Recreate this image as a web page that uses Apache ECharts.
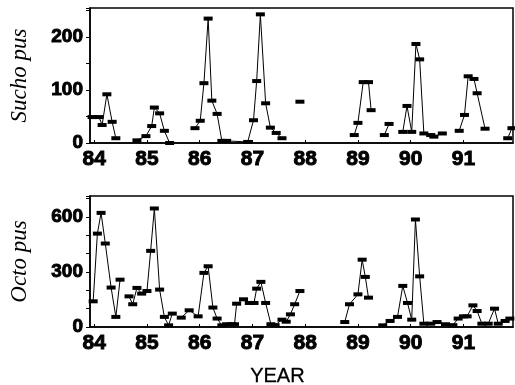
<!DOCTYPE html>
<html><head><meta charset="utf-8">
<script src="https://cdn.jsdelivr.net/npm/echarts@6/dist/echarts.min.js"></script>
<style>html,body{margin:0;padding:0;background:#fff}#c{width:515px;height:385px}</style>
</head><body><div id="c"></div>
<script>
// Year tick labels
const yearTicks = [84, 85, 86, 87, 88, 89, 90, 91];

// Sucho pus (top panel); null marks a break in the line
const suchoYear = [83.96, 84.09, 84.15, 84.24, 84.34, 84.41, null,
  84.81, 84.98, 85.09, 85.14, 85.24, 85.33, 85.43, null,
  85.91, 86.01, 86.08, 86.16, 86.23, 86.33, 86.42, 86.51, 86.91, 87.02, 87.08, 87.15, 87.25, 87.34, 87.45, 87.56, null,
  87.90, null,
  88.93, 89.00, 89.10, 89.20, 89.25, null,
  89.50, 89.59, null,
  89.85, 89.93, 90.02, 90.10, 90.17, 90.25, 90.38, 90.44, 90.60, null,
  90.92, 91.02, 91.09, 91.20, 91.26, 91.41, null,
  91.84, 91.92];
const suchoVal = [49, 49, 34, 92, 40, 9, null,
  5, 13, 32, 67, 56, 23, 0, null,
  28, 42, 113, 235, 80, 55, 4, 4, 2, 43, 117, 243, 75, 29, 19, 9, null,
  78, null,
  15, 38, 115, 115, 62, null,
  15, 36, null,
  21, 70, 21, 187, 158, 18, 15, 12, 18, null,
  23, 53, 126, 121, 94, 27, null,
  9, 28];

// Octo pus (bottom panel)
const octoYear = [83.98, 84.06, 84.13, 84.21, 84.32, 84.41, 84.49, null,
  84.66, 84.73, 84.81, 84.90, 85.00, 85.07, 85.14, 85.24, 85.33, 85.41, 85.48, null,
  85.65, 85.80, 85.97, 86.08, 86.16, 86.25, 86.33, 86.42, 86.51, 86.60, 86.66, 86.70, 86.83, 86.94, 87.03, 87.08, 87.16, 87.25, 87.35, 87.43, 87.56, 87.64, 87.72, 87.80, 87.90, null,
  88.75, 88.84, 89.00, 89.08, 89.14, 89.20, null,
  89.47, 89.61, 89.75, 89.85, 89.94, 90.02, 90.09, 90.17, 90.25, 90.38, 90.50, 90.66, 90.80, 90.90, 91.00, 91.07, 91.18, 91.26, 91.35, 91.47, 91.59, 91.66, 91.79, 91.88];
const octoVal = [140, 509, 622, 455, 215, 55, 258, null,
  167, 124, 213, 182, 196, 415, 646, 204, 55, 9, 73, null,
  51, 91, 58, 295, 331, 106, 46, 9, 15, 15, 15, 127, 151, 131, 131, 209, 246, 131, 15, 10, 40, 29, 69, 124, 196, null,
  27, 124, 178, 367, 273, 160, null,
  9, 33, 55, 224, 131, 40, 586, 276, 18, 18, 27, 15, 10, 46, 58, 58, 118, 87, 18, 18, 100, 18, 33, 46];

function segments(xs, ys) {
  const segs = []; let cur = [];
  xs.forEach((x, i) => {
    if (x === null) { if (cur.length) segs.push(cur); cur = []; }
    else cur.push([x, ys[i]]);
  });
  if (cur.length) segs.push(cur);
  return segs;
}

const tickFont = { fontFamily: 'Liberation Sans', fontWeight: 'bold', color: '#000',
  textBorderColor: '#000', textBorderWidth: 0.9 };
function xAxisCfg(idx) {
  return {
    type: 'value', gridIndex: idx, min: 83.92, max: 91.94,
    axisLine: { lineStyle: { color: '#000', width: 1.5 } },
    axisTick: { customValues: yearTicks, inside: true, length: 3, lineStyle: { color: '#000' } },
    axisLabel: Object.assign({ customValues: yearTicks, fontSize: 21, margin: 6 }, tickFont),
    splitLine: { show: false }
  };
}
function yAxisCfg(idx, max, interval, labelStep, name) {
  return {
    type: 'value', gridIndex: idx, min: 0, max: max, interval: interval,
    axisLine: { show: true, lineStyle: { color: '#000', width: 1.5 } },
    axisTick: { show: true, length: 4, lineStyle: { color: '#000' } },
    axisLabel: Object.assign({ fontSize: 19, margin: 7,
      formatter: v => (v % labelStep === 0 ? String(v) : '') }, tickFont),
    splitLine: { show: false },
    name: name, nameLocation: 'middle', nameGap: 59,
    nameTextStyle: { fontFamily: 'Liberation Serif', fontStyle: 'italic', fontSize: 23, color: '#000' }
  };
}

const series = [];
function addSeries(segs, idx) {
  segs.forEach(seg => series.push({
    type: 'line', xAxisIndex: idx, yAxisIndex: idx, data: seg,
    symbol: 'rect', symbolSize: [9, 4], showAllSymbol: true,
    itemStyle: { color: '#000' }, lineStyle: { color: '#000', width: 1 },
    silent: true
  }));
}
addSeries(segments(suchoYear, suchoVal), 0);
addSeries(segments(octoYear, octoVal), 1);

const chart = echarts.init(document.getElementById('c'), null, { renderer: 'canvas' });
chart.setOption({
  animation: false,
  backgroundColor: '#fff',
  grid: [
    { left: 86, top: 8, right: 2, height: 135, show: true, borderColor: '#000', borderWidth: 1.5 },
    { left: 86, top: 196, right: 2, height: 131, show: true, borderColor: '#000', borderWidth: 1.5 }
  ],
  xAxis: [xAxisCfg(0), xAxisCfg(1)],
  yAxis: [yAxisCfg(0, 255, 50, 100, 'Sucho pus'), yAxisCfg(1, 714, 100, 300, 'Octo pus')],
  graphic: [{ type: 'text', left: 250, top: 366,
    style: { text: 'YEAR', font: '20px "Liberation Sans"', fill: '#000', stroke: '#000', lineWidth: 0.3 } }],
  series: series
});
</script></body></html>
